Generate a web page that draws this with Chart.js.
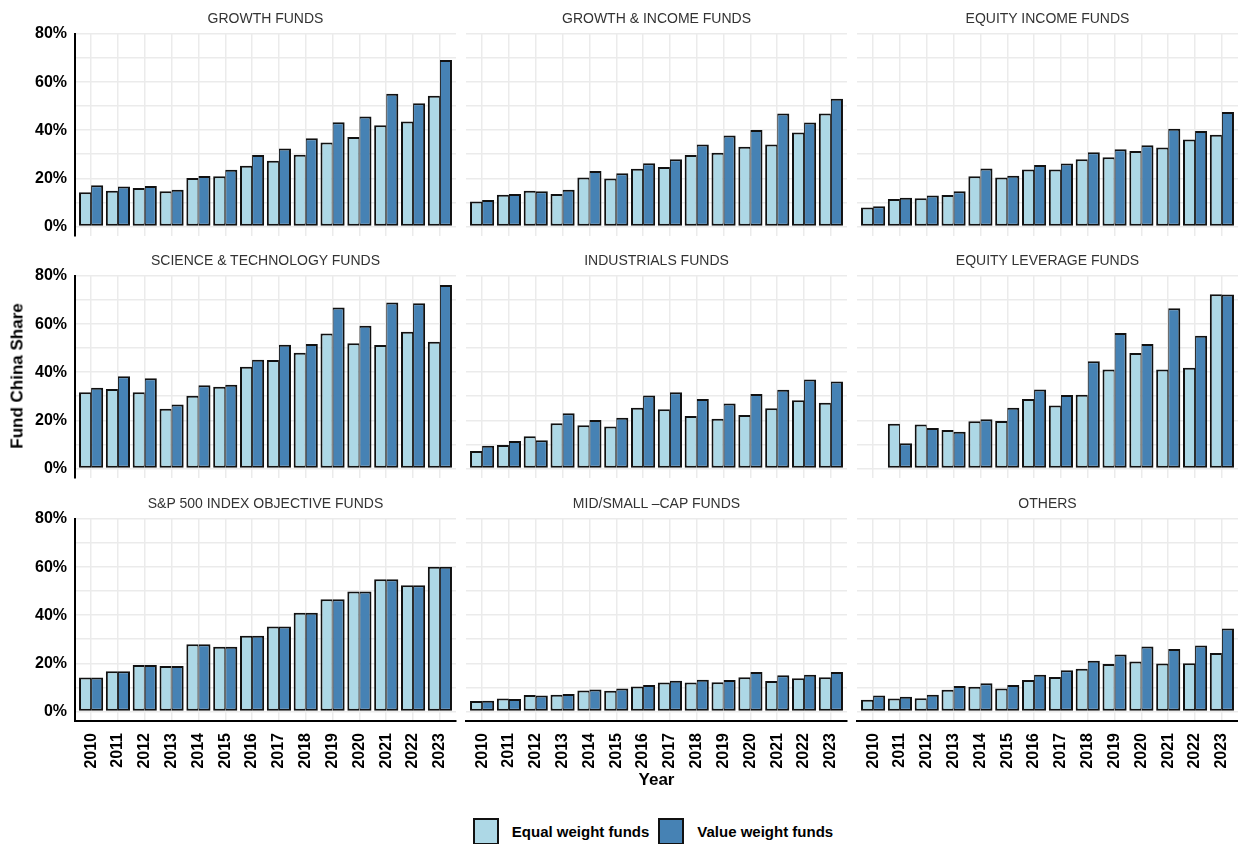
<!DOCTYPE html>
<html>
<head>
<meta charset="utf-8">
<script src="https://cdn.jsdelivr.net/npm/chart.js@4.4.1/dist/chart.umd.min.js"></script>
<style>
  html, body { margin: 0; padding: 0; background: #fff; }
  body { width: 1238px; height: 844px; position: relative; overflow: hidden;
         font-family: "Liberation Sans", Arial, sans-serif; }
  canvas { position: absolute; }
  .facet { position: absolute; font-size: 14px; color: #333; line-height: 1;
           white-space: nowrap; transform: translate(-50%, -50%); }
  .axis-title { position: absolute; font-size: 17px; font-weight: bold; color: #000;
                line-height: 1; white-space: nowrap; }
  #legend { position: absolute; left: 0; top: 818px; width: 100%; display: flex;
            justify-content: center; padding-left: 68px; box-sizing: border-box; }
  .leg-item { display: flex; align-items: center; margin: 0 4.5px; }
  .leg-box { width: 26px; height: 27px; box-sizing: border-box; border: 2px solid #111; }
  .leg-text { font-size: 15px; font-weight: bold; color: #000; margin-left: 13px; }
</style>
</head>
<body>
<script>
// Years on the x axis
const years = [2010, 2011, 2012, 2013, 2014, 2015, 2016, 2017, 2018, 2019, 2020, 2021, 2022, 2023];

// Series
const seriesNames = ['Equal weight funds', 'Value weight funds'];
const seriesColors = ['#ADD8E6', '#4682B4'];

// Y axis ticks (percent); labels shown every 20%
const yTicks = [0, 10, 20, 30, 40, 50, 60, 70, 80];
const yLabelTicks = [0, 20, 40, 60, 80];

// Facet titles
const panelTitles = [
  'GROWTH FUNDS', 'GROWTH & INCOME FUNDS', 'EQUITY INCOME FUNDS',
  'SCIENCE & TECHNOLOGY FUNDS', 'INDUSTRIALS FUNDS', 'EQUITY LEVERAGE FUNDS',
  'S&P 500 INDEX OBJECTIVE FUNDS', 'MID/SMALL \u2013CAP FUNDS', 'OTHERS'
];

// Fund China share (%) by objective
const growthEqual = [14.2, 14.8, 16.0, 14.6, 20.1, 20.8, 25.2, 27.3, 29.8, 34.9, 37.2, 42.1, 43.6, 54.3];
const growthValue = [17.1, 16.6, 16.8, 15.2, 21.0, 23.6, 29.7, 32.4, 36.7, 43.3, 45.7, 55.2, 51.2, 69.2];

const growthIncomeEqual = [10.3, 13.2, 14.8, 13.5, 20.3, 19.9, 24.0, 24.7, 29.7, 30.6, 33.1, 34.1, 39.0, 46.9];
const growthIncomeValue = [11.0, 13.5, 14.6, 15.2, 23.0, 22.1, 26.3, 27.9, 34.1, 37.8, 40.1, 46.9, 43.2, 53.1];

const equityIncomeEqual = [7.9, 11.4, 11.7, 13.0, 20.8, 20.3, 23.7, 23.7, 27.9, 28.7, 31.3, 32.8, 36.1, 38.1];
const equityIncomeValue = [8.4, 11.9, 12.8, 14.6, 24.1, 21.1, 25.5, 26.2, 30.8, 32.1, 33.7, 40.6, 39.7, 47.6];

const sciTechEqual = [31.7, 33.0, 31.7, 24.8, 30.2, 33.9, 42.3, 45.1, 48.1, 56.1, 52.0, 51.3, 56.8, 52.7];
const sciTechValue = [33.5, 38.3, 37.5, 26.6, 34.6, 34.8, 45.2, 51.4, 51.7, 66.9, 59.3, 69.0, 68.7, 76.3];

const industrialsEqual = [7.2, 9.7, 13.4, 18.8, 17.9, 17.4, 25.2, 24.6, 21.8, 20.6, 22.2, 25.0, 28.3, 27.3];
const industrialsValue = [9.4, 11.4, 11.7, 22.9, 20.1, 21.1, 30.3, 31.7, 28.8, 27.0, 30.9, 32.7, 37.0, 36.1];

const leverageEqual = [null, 18.6, 18.2, 16.0, 19.6, 19.7, 28.8, 26.1, 30.6, 41.1, 48.0, 41.1, 41.8, 72.4];
const leverageValue = [null, 10.5, 16.8, 15.2, 20.4, 25.2, 32.8, 30.5, 44.6, 56.3, 51.7, 66.6, 55.2, 72.3];

const sp500Equal = [14.1, 16.7, 19.3, 18.9, 27.9, 26.9, 31.4, 35.3, 41.0, 46.6, 49.9, 54.9, 52.4, 60.1];
const sp500Value = [14.1, 16.7, 19.3, 18.9, 27.9, 26.9, 31.4, 35.3, 41.0, 46.6, 49.9, 54.9, 52.4, 60.1];

const midSmallEqual = [4.3, 5.4, 6.8, 6.9, 8.7, 8.6, 10.3, 12.0, 12.0, 12.1, 14.2, 12.6, 13.8, 14.2];
const midSmallValue = [4.4, 5.2, 6.6, 7.2, 9.1, 9.5, 11.0, 12.7, 13.2, 13.0, 16.4, 15.0, 15.2, 16.4];

const othersEqual = [4.8, 5.4, 5.5, 9.0, 10.2, 9.5, 13.1, 14.3, 17.7, 19.7, 20.7, 19.9, 20.0, 24.3];
const othersValue = [6.6, 6.1, 6.9, 10.6, 11.7, 11.0, 15.2, 17.1, 21.1, 23.7, 27.0, 25.9, 27.4, 34.5];

const panelSeries = [
  [growthEqual, growthValue], [growthIncomeEqual, growthIncomeValue], [equityIncomeEqual, equityIncomeValue],
  [sciTechEqual, sciTechValue], [industrialsEqual, industrialsValue], [leverageEqual, leverageValue],
  [sp500Equal, sp500Value], [midSmallEqual, midSmallValue], [othersEqual, othersValue]
];

// Facet grid geometry (plot areas)
const COL_LEFT = [75, 466, 857];
const ROW_TOP = [34, 276, 519];
const PLOT_W = 381, PLOT_H = 202;
const Y_AXIS_W = 70, X_AXIS_H = 60, PAD_TOP = 14, PAD_RIGHT = 4;
const FONT = '"Liberation Sans", Arial, sans-serif';
const GRID = '#ebebeb';

panelTitles.forEach((title, i) => {
  const col = i % 3, row = Math.floor(i / 3);
  const firstCol = col === 0, lastRow = row === 2;

  const cv = document.createElement('canvas');
  cv.width = Y_AXIS_W + PLOT_W + PAD_RIGHT;
  cv.height = PAD_TOP + PLOT_H + X_AXIS_H;
  cv.style.width = cv.width + 'px';
  cv.style.height = cv.height + 'px';
  cv.style.left = (COL_LEFT[col] - Y_AXIS_W) + 'px';
  cv.style.top = (ROW_TOP[row] - PAD_TOP) + 'px';
  document.body.appendChild(cv);

  const t = document.createElement('div');
  t.className = 'facet';
  t.textContent = title;
  t.style.left = (COL_LEFT[col] + PLOT_W / 2) + 'px';
  t.style.top = (ROW_TOP[row] - 16) + 'px';
  document.body.appendChild(t);

  const [eq, val] = panelSeries[i];
  const bw = 2, bwIn = 1;
  new Chart(cv, {
    type: 'bar',
    data: {
      datasets: [
        { label: seriesNames[0], data: eq.map((v, k) => ({ x: k, y: v })),
          backgroundColor: seriesColors[0], borderColor: '#111',
          borderWidth: { top: bw, left: bw, bottom: bw, right: bwIn }, borderSkipped: false },
        { label: seriesNames[1], data: val.map((v, k) => ({ x: k, y: v })),
          backgroundColor: seriesColors[1], borderColor: '#111',
          borderWidth: { top: bw, left: bwIn, bottom: bw, right: bw }, borderSkipped: false }
      ]
    },
    options: {
      responsive: false,
      animation: false,
      devicePixelRatio: 1,
      layout: { padding: { top: PAD_TOP, right: PAD_RIGHT, left: 0, bottom: 0 } },
      plugins: { legend: { display: false }, tooltip: { enabled: false }, title: { display: false } },
      datasets: { bar: { categoryPercentage: 0.9, barPercentage: 1.0 } },
      scales: {
        x: {
          type: 'linear', min: -0.6, max: 13.6, offset: false,
          afterBuildTicks: s => { s.ticks = years.map((y, k) => ({ value: k })); },
          afterFit: s => { s.height = X_AXIS_H; s.paddingLeft = 0; s.paddingRight = 0; },
          grid: { color: GRID, lineWidth: 1.5, drawTicks: false, offset: false },
          border: { display: lastRow, color: '#000', width: 2 },
          ticks: {
            display: lastRow, autoSkip: false, minRotation: 90, maxRotation: 90, padding: 12,
            color: '#000', font: { family: FONT, size: 16, weight: 'bold' },
            callback: v => years[Math.round(v)]
          }
        },
        y: {
          min: -4, max: 80,
          afterBuildTicks: s => { s.ticks = yTicks.map(v => ({ value: v })); },
          afterFit: s => { s.width = Y_AXIS_W; s.paddingTop = 0; s.paddingBottom = 0; },
          grid: { color: GRID, lineWidth: 1.5, drawTicks: false },
          border: { display: firstCol, color: '#000', width: 2 },
          ticks: {
            display: firstCol, padding: 8, color: '#000',
            font: { family: FONT, size: 16, weight: 'bold' },
            callback: v => yLabelTicks.includes(v) ? v + '%' : ''
          }
        }
      }
    }
  });
});

// Axis titles
const yTitle = document.createElement('div');
yTitle.className = 'axis-title';
yTitle.textContent = 'Fund China Share';
yTitle.style.left = '17px';
yTitle.style.top = '376px';
yTitle.style.transform = 'translate(-50%, -50%) rotate(-90deg)';
document.body.appendChild(yTitle);

const xTitle = document.createElement('div');
xTitle.className = 'axis-title';
xTitle.textContent = 'Year';
xTitle.style.left = (COL_LEFT[0] + (COL_LEFT[2] + PLOT_W - COL_LEFT[0]) / 2) + 'px';
xTitle.style.top = '779px';
xTitle.style.transform = 'translate(-50%, -50%)';
document.body.appendChild(xTitle);

// Legend
const legend = document.createElement('div');
legend.id = 'legend';
seriesNames.forEach((name, k) => {
  const item = document.createElement('div');
  item.className = 'leg-item';
  const box = document.createElement('div');
  box.className = 'leg-box';
  box.style.background = seriesColors[k];
  const txt = document.createElement('span');
  txt.className = 'leg-text';
  txt.textContent = name;
  item.appendChild(box);
  item.appendChild(txt);
  legend.appendChild(item);
});
document.body.appendChild(legend);
</script>
</body>
</html>
